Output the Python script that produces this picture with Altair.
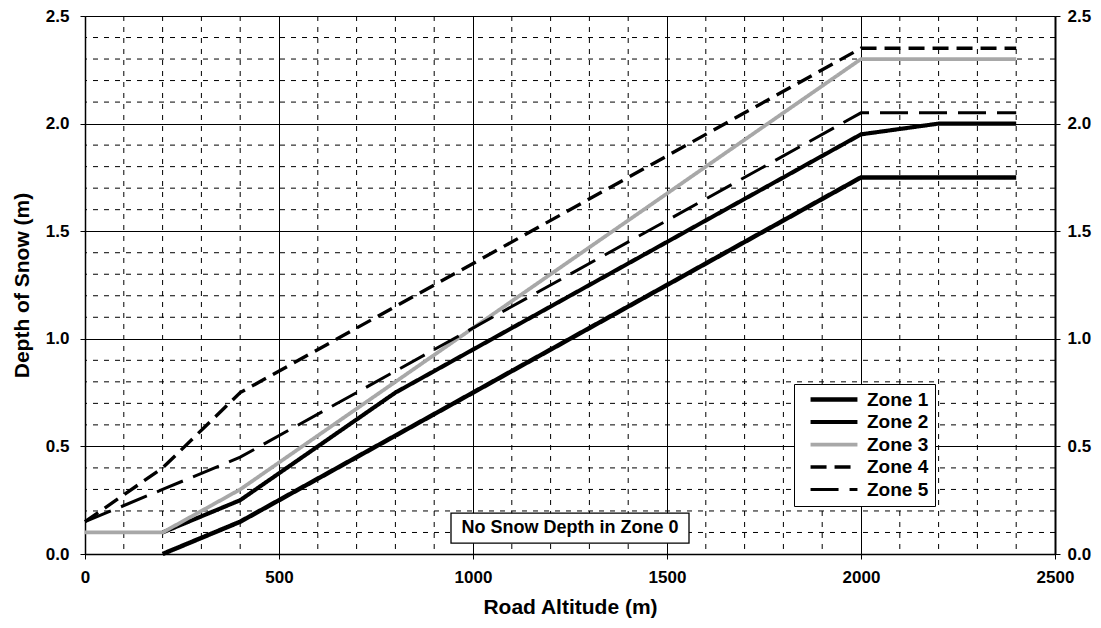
import altair as alt
import pandas as pd

# ---- data ----
zones = ["Zone 1", "Zone 2", "Zone 3", "Zone 4", "Zone 5"]

z1_alt = [200, 400, 2000, 2400]
z1_depth = [0.0, 0.15, 1.75, 1.75]

z2_alt = [200, 400, 600, 800, 2000, 2200, 2400]
z2_depth = [0.1, 0.25, 0.5, 0.75, 1.95, 2.0, 2.0]

z3_alt = [0, 200, 400, 2000, 2400]
z3_depth = [0.1, 0.1, 0.3, 2.3, 2.3]

z4_alt = [0, 200, 400, 2000, 2400]
z4_depth = [0.15, 0.4, 0.75, 2.35, 2.35]

z5_alt = [0, 200, 400, 2000, 2400]
z5_depth = [0.15, 0.3, 0.45, 2.05, 2.05]

# axis ticks (major) and minor grid positions
x_major_ticks = [0, 500, 1000, 1500, 2000, 2500]
y_major_ticks = [0.0, 0.5, 1.0, 1.5, 2.0, 2.5]
x_minor_ticks = [100, 200, 300, 400, 600, 700, 800, 900, 1100, 1200, 1300, 1400,
                 1600, 1700, 1800, 1900, 2100, 2200, 2300, 2400]
y_minor_ticks = [0.1, 0.2, 0.3, 0.4, 0.6, 0.7, 0.8, 0.9, 1.1, 1.2, 1.3, 1.4,
                 1.6, 1.7, 1.8, 1.9, 2.1, 2.2, 2.3, 2.4]

note_text = ["No Snow Depth in Zone 0"]
note_alt = [1250]
note_depth = [0.12]

# ---- styling ----
zone_colors = ["#000000", "#000000", "#a8a8a8", "#000000", "#000000"]
zone_dash = [[1, 0], [1, 0], [1, 0], [16, 8], [28, 11]]
zone_width = [4.5, 3.0, 2.5, 1.5, 2.5]
FONT = "Liberation Sans"

rows = []
for z, xs, ys in zip(zones, [z1_alt, z2_alt, z3_alt, z4_alt, z5_alt],
                     [z1_depth, z2_depth, z3_depth, z4_depth, z5_depth]):
    for i, (a, d) in enumerate(zip(xs, ys)):
        rows.append({"zone": z, "alt": a, "depth": d, "order": i})
df = pd.DataFrame(rows)
note_df = pd.DataFrame({"text": note_text, "alt": note_alt, "depth": note_depth})
xminor_df = pd.DataFrame({"alt": x_minor_ticks})
yminor_df = pd.DataFrame({"depth": y_minor_ticks})

x_scale = alt.Scale(domain=[0, 2500], nice=False)
y_scale = alt.Scale(domain=[0, 2.5], nice=False)

x_axis = alt.Axis(
    values=x_major_ticks, format="d",
    labelFlush=False, labelOverlap=False,
    grid=True, gridColor="#000000", gridOpacity=1, gridWidth=1,
    tickColor="#000000", tickSize=5,
    domainColor="#000000", domainWidth=1.5,
    labelFont=FONT, labelFontSize=17, labelFontWeight="bold", labelColor="#000000",
    labelPadding=10,
    title="Road Altitude (m)", titleFont=FONT, titleFontSize=21, titleFontWeight="bold",
    titleColor="#000000", titlePadding=11,
)

y_axis = alt.Axis(
    values=y_major_ticks, format=".1f",
    labelOverlap=False,
    grid=True, gridColor="#000000", gridOpacity=1, gridWidth=1,
    tickColor="#000000", tickSize=5,
    domainColor="#000000", domainWidth=1.5,
    labelFont=FONT, labelFontSize=17, labelFontWeight="bold", labelColor="#000000",
    labelPadding=11,
    title="Depth of Snow (m)", titleFont=FONT, titleFontSize=21, titleFontWeight="bold",
    titleColor="#000000", titlePadding=13,
)

y_axis_right = alt.Axis(
    orient="right",
    values=y_major_ticks, format=".1f",
    labelOverlap=False,
    grid=False,
    tickColor="#000000", tickSize=5,
    domainColor="#000000", domainWidth=2,
    labelFont=FONT, labelFontSize=17, labelFontWeight="bold", labelColor="#000000",
    labelPadding=7,
    title=None,
)

legend = alt.Legend(
    title=None, orient="none", legendX=709, legendY=368,
    fillColor="#ffffff", strokeColor="#000000", padding=6,
    symbolType="stroke", symbolSize=2200, symbolOffset=8,
    clipHeight=19, rowPadding=2.5,
    labelFont=FONT, labelFontSize=19, labelFontWeight="bold", labelColor="#000000",
    labelOffset=7,
)

grid_x = alt.Chart(xminor_df).mark_rule(
    color="#000000", strokeWidth=1, strokeDash=[5, 6]
).encode(x=alt.X("alt:Q", scale=x_scale, axis=x_axis))

grid_y = alt.Chart(yminor_df).mark_rule(
    color="#000000", strokeWidth=1, strokeDash=[5, 6]
).encode(y=alt.Y("depth:Q", scale=y_scale, axis=y_axis))

lines = alt.Chart(df).mark_line().encode(
    x=alt.X("alt:Q", scale=x_scale, axis=x_axis),
    y=alt.Y("depth:Q", scale=y_scale, axis=None),
    order="order:Q",
    color=alt.Color("zone:N", scale=alt.Scale(domain=zones, range=zone_colors), legend=legend),
    strokeDash=alt.StrokeDash("zone:N", scale=alt.Scale(domain=zones, range=zone_dash), legend=legend),
    strokeWidth=alt.StrokeWidth("zone:N", scale=alt.Scale(domain=zones, range=zone_width), legend=legend),
)

right_axis = alt.Chart(df).mark_point(opacity=0).encode(
    x=alt.X("alt:Q", scale=x_scale, axis=x_axis),
    y=alt.Y("depth:Q", scale=y_scale, axis=y_axis_right),
)

note_box = alt.Chart(note_df).mark_rect(
    width=238, height=30, fill="#ffffff", stroke="#000000", strokeWidth=1.3
).encode(
    x=alt.X("alt:Q", scale=x_scale, axis=x_axis),
    y=alt.Y("depth:Q", scale=y_scale, axis=None),
)

note_label = alt.Chart(note_df).mark_text(
    font=FONT, fontSize=18, fontWeight="bold", color="#000000"
).encode(
    x=alt.X("alt:Q", scale=x_scale, axis=x_axis),
    y=alt.Y("depth:Q", scale=y_scale, axis=None),
    text="text:N",
)

chart = alt.layer(grid_x, grid_y, lines, right_axis, note_box, note_label).resolve_scale(
    y="shared", x="shared"
).resolve_axis(y="independent").properties(
    width=970, height=538,
    padding={"left": 77, "top": 8, "right": 38, "bottom": 66},
    autosize=alt.AutoSizeParams(type="none"),
).configure_view(stroke="#000000", strokeWidth=1.5).configure(background="#ffffff")

chart.save("out.html", embed_options={"renderer": "svg", "actions": False})
